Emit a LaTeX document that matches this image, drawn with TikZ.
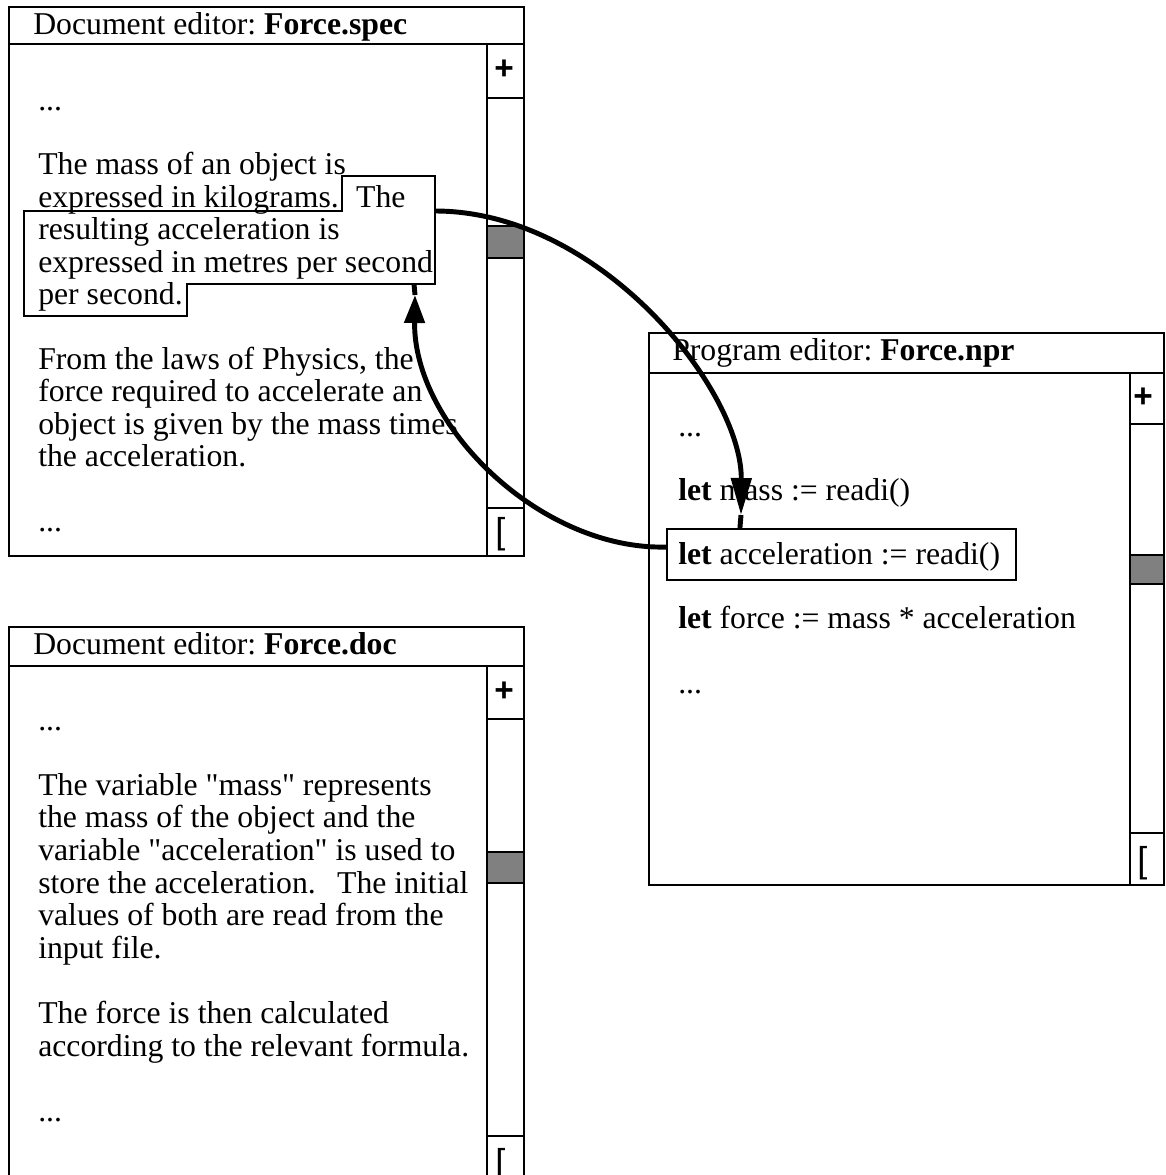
\documentclass[tikz,border=0pt]{standalone}
\usepackage{fontspec}
\setmainfont{Liberation Serif}
\newfontfamily\uisans{Liberation Sans}
\usetikzlibrary{arrows.meta}
\definecolor{thumbgray}{RGB}{128,128,128}
\begin{document}
\frenchspacing
\begin{tikzpicture}[x=0.75pt,y=-0.75pt,
  frame/.style={line width=1.8pt, line join=miter},
  thumbbox/.style={frame, fill=thumbgray},
  hlline/.style={line width=1.6pt, line join=miter},
  body/.style={anchor=base west, inner sep=0pt, font=\fontsize{23.8pt}{24.3pt}\selectfont},
  plusglyph/.style={inner sep=0pt, font=\uisans\bfseries\fontsize{25pt}{25pt}\selectfont},
  endglyph/.style={anchor=base west, inner sep=0pt, font=\uisans\fontsize{27pt}{27pt}\selectfont},
  link/.style={line width=3.7pt},
]
\useasboundingbox (0,0) rectangle (1166,1175);
\fill[white] (0,0) rectangle (1166,1175);

% ---------- Document editor: Force.spec ----------
\draw[frame] (9,7) rectangle (524,556);
\draw[frame] (9,44) -- (524,44);
\draw[frame] (487,44) -- (487,556);
\draw[frame] (487,98) -- (524,98);
\draw[frame] (487,508) -- (524,508);
\draw[thumbbox] (487,226) rectangle (524,258);
\node[plusglyph] (specplus) at (504,70) {+};
\node[endglyph] (specend) at (495,543) {[};
\node[body] (spectitle) at (33,34) {Document editor: \textbf{Force.spec}};

% selected passage
\draw[hlline] (342,176) -- (435,176) -- (435,284) -- (187,284) -- (187,316)
  -- (24,316) -- (24,211) -- (342,211) -- cycle;
\coordinate (hlR) at (435,211);
\coordinate (hlB) at (414,284);

\node[body] (spectext) at (38,110) {\begin{tabular}[t]{@{}l@{}}
...\\
\\
The mass of an object is\\
expressed in kilograms.\hspace{13pt}The\\
resulting acceleration is\\
expressed in metres per second\\
per second.\\
\\
From the laws of Physics, the\\
force required to accelerate an\\
object is given by the mass times\\
the acceleration.\\
\\
...
\end{tabular}};

% ---------- Document editor: Force.doc ----------
\draw[frame] (9,627) rectangle (524,1190);
\draw[frame] (9,666) -- (524,666);
\draw[frame] (487,666) -- (487,1190);
\draw[frame] (487,719) -- (524,719);
\draw[frame] (487,1136) -- (524,1136);
\draw[thumbbox] (487,852) rectangle (524,883);
\node[plusglyph] (docplus) at (504,692) {+};
\node[endglyph] (docend) at (495,1174) {[};
\node[body] (doctitle) at (33,654) {Document editor: \textbf{Force.doc}};

\node[body, font=\fontsize{23.8pt}{24.45pt}\selectfont] (doctext) at (38,730) {\begin{tabular}[t]{@{}l@{}}
...\\
\\
The variable \textquotedbl mass\textquotedbl{} represents\\
the mass of the object and the\\
variable \textquotedbl acceleration\textquotedbl{} is used to\\
store the acceleration.\hspace{16pt}The initial\\
values of both are read from the\\
input file.\\
\\
The force is then calculated\\
according to the relevant formula.\\
\\
...
\end{tabular}};

% ---------- Program editor: Force.npr ----------
\draw[frame] (649,333) rectangle (1164,885);
\draw[frame] (649,373) -- (1164,373);
\draw[frame] (1130,373) -- (1130,885);
\draw[frame] (1130,424) -- (1164,424);
\draw[frame] (1130,833) -- (1164,833);
\draw[thumbbox] (1130,555) rectangle (1164,584);
\node[plusglyph] (nprplus) at (1143,398) {+};
\node[endglyph] (nprend) at (1137,872) {[};
\node[body] (nprtitle) at (672,360) {Program editor: \textbf{Force.npr}};

\node[draw, line width=1.6pt, inner sep=0pt, minimum width=261.75pt,
  minimum height=38.25pt] (accel) at (841.5,554.5) {};

\node[body, font=\fontsize{23.8pt}{24.1pt}\selectfont] (nprtext) at (678,436) {\begin{tabular}[t]{@{}l@{}}
...\\
\\
\textbf{let} mass := readi()\\
\\
\textbf{let} acceleration := readi()\\
\\
\textbf{let} force := mass * acceleration\\
\\
...
\end{tabular}};

% ---------- links between the selections ----------
\coordinate (tipA) at (741,515);
\draw[link,-{Triangle[length=27.75pt,width=15pt]}] (hlR) .. controls (600,211) and (742,390) .. (tipA);
\draw[link] (tipA) -- ([xshift=55.5pt]accel.north west);

\coordinate (tipB) at (415,295);
\draw[link,-{Triangle[length=21pt,width=15pt]}] ([yshift=5.6pt]accel.west) .. controls (540,550) and (413,425) .. (tipB);
\draw[link] (tipB) -- (hlB);
\end{tikzpicture}
\end{document}
